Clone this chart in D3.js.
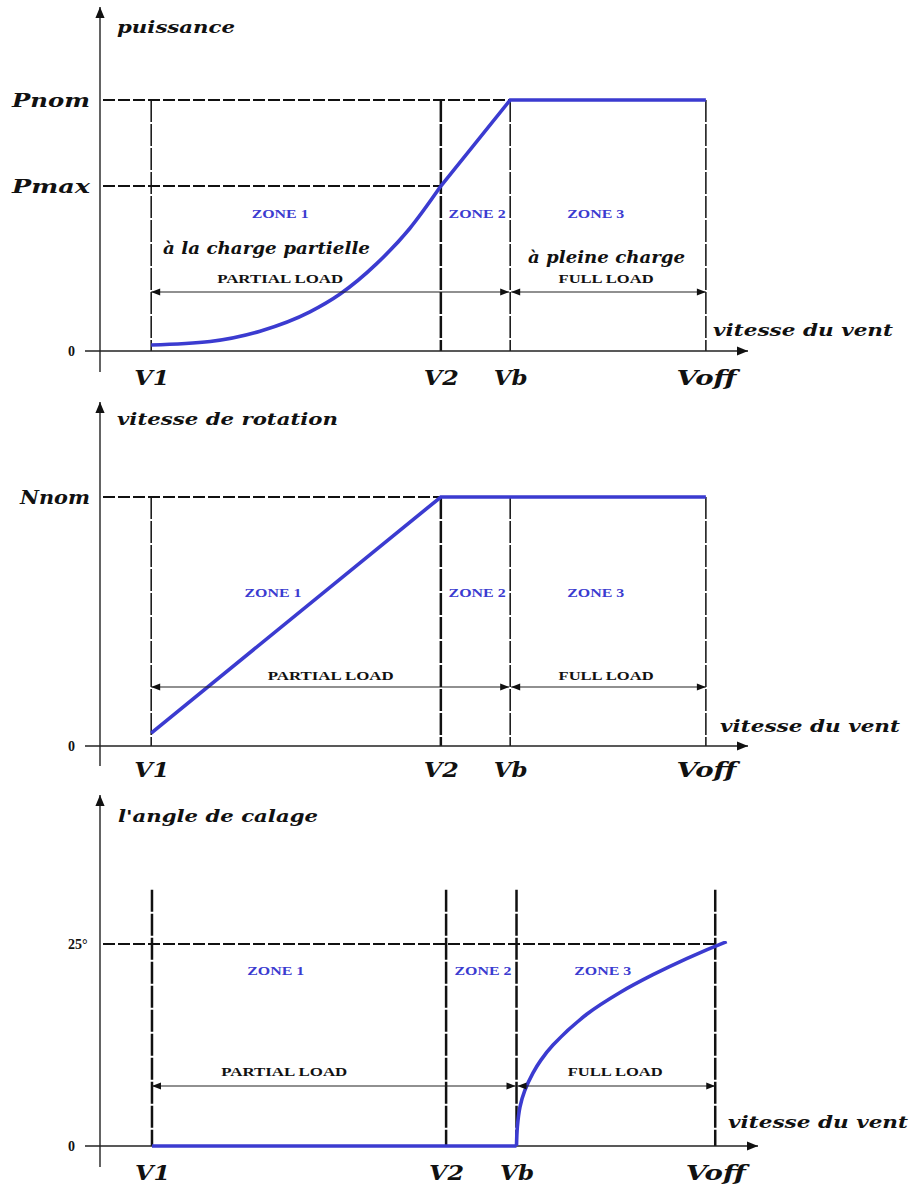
<!DOCTYPE html>
<html>
<head>
<meta charset="utf-8">
<script src="https://cdn.jsdelivr.net/npm/d3@7"></script>
<style>
  body { margin: 0; background: #fff; }
  svg { display: block; }
</style>
</head>
<body>
<div id="chart"></div>
<script>
// wind speed marks, in % of the horizontal axis
const windLabels = ["V1", "V2", "Vb", "Voff"];
const windSpeeds = [7.9, 52.6, 63.3, 93.5];

const zoneNames = ["ZONE 1", "ZONE 2", "ZONE 3"];

// puissance (% de Pnom)
const powerLabels = ["0", "Pmax", "Pnom"];
const powerLevels = [0, 65.7, 100];
const powerCurveX = [7.9, 17.0, 24.7, 32.4, 37.0, 42.7, 47.8, 52.6];
const powerCurveY = [2.4, 3.8, 7.9, 15.6, 22.6, 34.8, 48.8, 65.7];
const powerFullX = [52.6, 63.3, 93.5];
const powerFullY = [65.7, 100, 100];

// vitesse de rotation (% de Nnom)
const rotorLabels = ["0", "Nnom"];
const rotorLevels = [0, 100];
const rotorX = [7.9, 52.6, 93.5];
const rotorY = [5.2, 100, 100];

// angle de calage (degres)
const pitchLabels = ["0", "25°"];
const pitchLevels = [0, 25];
const pitchFlatX = [7.9, 63.3];
const pitchFlatY = [0, 0];
const pitchRiseX = [63.3, 63.43, 63.83, 64.55, 65.81, 66.98, 68.84, 73.97, 79.03, 84.04, 89.16, 95.24];
const pitchRiseY = [0, 2.4, 4.85, 6.85, 9.05, 10.6, 12.5, 16.3, 19.0, 21.2, 23.2, 25.3];

const BLUE = "#3b3bd0";
const ITALIC = "'DejaVu Serif', serif";
const ROMAN = "'Liberation Serif', 'Times New Roman', serif";

const zip = (xs, ys) => xs.map((x, i) => ({x: x, y: ys[i]}));

const panels = [
    {
        title: "puissance", titleX: 117, titleY: 33, titleW: 118,
        xRange: [100, 748], yDomain: [0, 100], yRange: [351, 100],
        axisTop: 7, axisBottom: 372,
        levelLabels: powerLabels, levelValues: powerLevels,
        levelLines: [{v: 100, to: 2}, {v: 65.7, to: 1}],
        guideTop: 100, guideWidths: [1.5, 2.5, 1.5, 1.5],
        series: [
            {data: zip(powerCurveX, powerCurveY), curve: d3.curveMonotoneX},
            {data: zip(powerFullX, powerFullY), curve: d3.curveLinear}
        ],
        zoneY: 218, zoneX: [27.8, 58.2, 76.5],
        partialX: 27.8, fullX: 78.1, loadY: 283, arrowY: 292,
        extra: [
            {text: "à la charge partielle", x: 163, y: 254, w: 207},
            {text: "à pleine charge", x: 528, y: 263, w: 157}
        ],
        ventX: 713, ventY: 336, tickY: 385
    },
    {
        title: "vitesse de rotation", titleX: 117, titleY: 425, titleW: 221,
        xRange: [100, 748], yDomain: [0, 100], yRange: [746, 497],
        axisTop: 402, axisBottom: 766,
        levelLabels: rotorLabels, levelValues: rotorLevels,
        levelLines: [{v: 100, to: 2}],
        guideTop: 100, guideWidths: [1.5, 2.5, 1.5, 1.5],
        series: [
            {data: zip(rotorX, rotorY), curve: d3.curveLinear}
        ],
        zoneY: 597, zoneX: [26.7, 58.2, 76.5],
        partialX: 35.6, fullX: 78.1, loadY: 680, arrowY: 687,
        extra: [],
        ventX: 720, ventY: 732, tickY: 777
    },
    {
        title: "l'angle de calage", titleX: 118, titleY: 822, titleW: 200,
        xRange: [100, 758], yDomain: [0, 25], yRange: [1146, 944],
        axisTop: 795, axisBottom: 1167,
        levelLabels: pitchLabels, levelValues: pitchLevels,
        levelLines: [{v: 25, to: 3}],
        guideTop: 31.7, guideWidths: [2.5, 2.5, 2.5, 2.5],
        series: [
            {data: zip(pitchFlatX, pitchFlatY), curve: d3.curveLinear},
            {data: zip(pitchRiseX, pitchRiseY), curve: d3.curveCatmullRom.alpha(0.5)}
        ],
        zoneY: 975, zoneX: [26.7, 58.2, 76.4],
        partialX: 28.0, fullX: 78.3, loadY: 1076, arrowY: 1086,
        extra: [],
        ventX: 728, ventY: 1128, tickY: 1180
    }
];

const svg = d3.select("#chart")
    .append("svg")
    .attr("width", 912)
    .attr("height", 1189);

// fleches
const defs = svg.append("defs");
defs.append("marker")
    .attr("id", "axis-arrow")
    .attr("viewBox", "0 -6 12 12")
    .attr("refX", 12).attr("refY", 0)
    .attr("markerUnits", "userSpaceOnUse")
    .attr("markerWidth", 13).attr("markerHeight", 11)
    .attr("orient", "auto")
    .append("path")
    .attr("d", "M0,-5L12,0L0,5Z")
    .attr("fill", "#111");
defs.append("marker")
    .attr("id", "load-arrow")
    .attr("viewBox", "0 -5 10 10")
    .attr("refX", 10).attr("refY", 0)
    .attr("markerUnits", "userSpaceOnUse")
    .attr("markerWidth", 11).attr("markerHeight", 9)
    .attr("orient", "auto-start-reverse")
    .append("path")
    .attr("d", "M0,-4L10,0L0,4Z")
    .attr("fill", "#111");

function italicText(g, text, x, y, w, size) {
    return g.append("text")
        .attr("x", x).attr("y", y)
        .attr("textLength", w)
        .attr("lengthAdjust", "spacingAndGlyphs")
        .style("font-family", ITALIC)
        .style("font-style", "italic")
        .style("font-weight", "bold")
        .style("font-size", size + "px")
        .style("fill", "#111")
        .text(text);
}

function drawPanel(p) {
    const g = svg.append("g");
    const x = d3.scaleLinear().domain([0, 100]).range(p.xRange);
    const y = d3.scaleLinear().domain(p.yDomain).range(p.yRange);
    const y0 = y(0);

    // lignes verticales V1, V2, Vb, Voff
    g.selectAll(".guide")
        .data(windSpeeds)
        .enter()
        .append("line")
        .attr("class", "guide")
        .attr("x1", d => x(d)).attr("x2", d => x(d))
        .attr("y1", y(p.guideTop)).attr("y2", y0)
        .attr("stroke", "#111")
        .attr("stroke-width", (d, i) => p.guideWidths[i])
        .attr("stroke-dasharray", "22,2");

    // niveaux en pointilles
    g.selectAll(".level")
        .data(p.levelLines)
        .enter()
        .append("line")
        .attr("class", "level")
        .attr("x1", 103)
        .attr("x2", d => x(windSpeeds[d.to]))
        .attr("y1", d => y(d.v)).attr("y2", d => y(d.v))
        .attr("stroke", "#111")
        .attr("stroke-width", 2)
        .attr("stroke-dasharray", "12,3");

    // axes
    g.append("line")
        .attr("x1", 85).attr("x2", p.xRange[1])
        .attr("y1", y0).attr("y2", y0)
        .attr("stroke", "#222").attr("stroke-width", 1.4)
        .attr("marker-end", "url(#axis-arrow)");
    g.append("line")
        .attr("x1", 100).attr("x2", 100)
        .attr("y1", p.axisBottom).attr("y2", p.axisTop)
        .attr("stroke", "#222").attr("stroke-width", 1.4)
        .attr("marker-end", "url(#axis-arrow)");

    // etiquettes de l'axe vertical
    const yAxis = g.append("g")
        .attr("transform", "translate(100,0)")
        .call(d3.axisLeft(y)
            .tickValues(p.levelValues)
            .tickFormat((d, i) => p.levelLabels[i])
            .tickSize(0)
            .tickPadding(10));
    yAxis.select(".domain").remove();
    yAxis.selectAll("text").each(function(d, i) {
        const t = d3.select(this).attr("fill", "#111");
        const label = p.levelLabels[i];
        if (label === "0" || label === "25°") {
            t.attr("x", -32).attr("text-anchor", "start")
                .style("font-family", ROMAN)
                .style("font-weight", "bold")
                .style("font-size", "14px");
        } else {
            t.attr("textLength", label === "Nnom" ? 70 : 78)
                .attr("lengthAdjust", "spacingAndGlyphs")
                .attr("dy", "0.35em")
                .style("font-family", ITALIC)
                .style("font-style", "italic")
                .style("font-weight", "bold")
                .style("font-size", "19px");
        }
    });

    // etiquettes de l'axe horizontal
    const tickW = [35, 35, 34, 60];
    const xAxis = g.append("g")
        .attr("transform", `translate(0,${y0})`)
        .call(d3.axisBottom(x)
            .tickValues(windSpeeds)
            .tickFormat((d, i) => windLabels[i])
            .tickSize(0));
    xAxis.select(".domain").remove();
    xAxis.selectAll("text")
        .attr("y", p.tickY - y0)
        .attr("dy", 0)
        .attr("fill", "#111")
        .attr("textLength", (d, i) => tickW[i])
        .attr("lengthAdjust", "spacingAndGlyphs")
        .style("font-family", ITALIC)
        .style("font-style", "italic")
        .style("font-weight", "bold")
        .style("font-size", "20px");

    // courbes
    p.series.forEach(s => {
        g.append("path")
            .datum(s.data)
            .attr("d", d3.line().x(d => x(d.x)).y(d => y(d.y)).curve(s.curve))
            .attr("fill", "none")
            .attr("stroke", BLUE)
            .attr("stroke-width", 3.6)
            .attr("stroke-linecap", "butt");
    });

    // zones
    g.selectAll(".zone")
        .data(zoneNames)
        .enter()
        .append("text")
        .attr("class", "zone")
        .attr("x", (d, i) => x(p.zoneX[i]))
        .attr("y", p.zoneY)
        .attr("text-anchor", "middle")
        .attr("textLength", 57)
        .attr("lengthAdjust", "spacingAndGlyphs")
        .style("font-family", ROMAN)
        .style("font-weight", "bold")
        .style("font-size", "12px")
        .style("fill", BLUE)
        .text(d => d);

    // fleches de charge
    const vb = x(windSpeeds[2]);
    [[x(windSpeeds[0]), vb - 1], [vb + 1, x(windSpeeds[3])]].forEach(seg => {
        g.append("line")
            .attr("x1", seg[0]).attr("x2", seg[1])
            .attr("y1", p.arrowY).attr("y2", p.arrowY)
            .attr("stroke", "#222").attr("stroke-width", 1.2)
            .attr("marker-start", "url(#load-arrow)")
            .attr("marker-end", "url(#load-arrow)");
    });

    [["PARTIAL LOAD", p.partialX, 126], ["FULL LOAD", p.fullX, 95]].forEach(l => {
        g.append("text")
            .attr("x", x(l[1]))
            .attr("y", p.loadY)
            .attr("text-anchor", "middle")
            .attr("textLength", l[2])
            .attr("lengthAdjust", "spacingAndGlyphs")
            .style("font-family", ROMAN)
            .style("font-weight", "bold")
            .style("font-size", "13px")
            .style("fill", "#111")
            .text(l[0]);
    });

    p.extra.forEach(e => italicText(g, e.text, e.x, e.y, e.w, 17));

    italicText(g, p.title, p.titleX, p.titleY, p.titleW, 17);
    italicText(g, "vitesse du vent", p.ventX, p.ventY, 180, 17);
}

panels.forEach(drawPanel);
</script>
</body>
</html>
